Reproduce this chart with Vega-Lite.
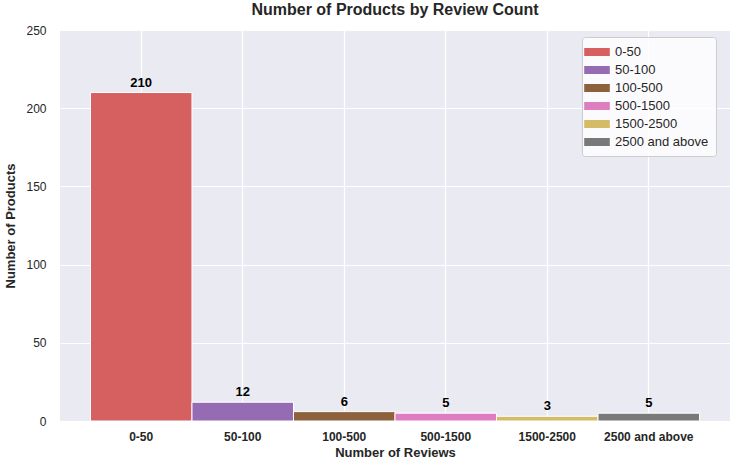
{
  "$schema": "https://vega.github.io/schema/vega-lite/v6.json",
  "autosize": "none",
  "width": 670,
  "height": 391,
  "padding": {"left": 60, "top": 30, "right": 7, "bottom": 48},
  "background": "white",
  "title": {
    "text": "Number of Products by Review Count",
    "font": "Liberation Sans",
    "fontSize": 16,
    "fontWeight": "bold",
    "color": "#262626",
    "offset": 6
  },
  "config": {
    "view": {"fill": "#eaeaf2", "stroke": null},
    "font": "Liberation Sans"
  },
  "data": {
    "values": [
      {"range": "0-50", "count": 210},
      {"range": "50-100", "count": 12},
      {"range": "100-500", "count": 6},
      {"range": "500-1500", "count": 5},
      {"range": "1500-2500", "count": 3},
      {"range": "2500 and above", "count": 5}
    ]
  },
  "encoding": {
    "x": {
      "field": "range",
      "type": "nominal",
      "sort": null,
      "title": "Number of Reviews",
      "scale": {"paddingInner": 0, "paddingOuter": 0.3},
      "axis": {
        "labelAngle": 0,
        "labelFontWeight": "bold",
        "labelFontSize": 12,
        "labelColor": "#262626",
        "labelPadding": 10,
        "titleFontSize": 13,
        "titleFontWeight": "bold",
        "titleColor": "#262626",
        "titlePadding": 4,
        "domain": false,
        "ticks": false,
        "grid": true,
        "gridColor": "white",
        "gridWidth": 1.2,
        "bandPosition": 0.5
      }
    },
    "y": {
      "field": "count",
      "type": "quantitative",
      "title": "Number of Products",
      "scale": {"domain": [0, 250]},
      "axis": {
        "values": [0, 50, 100, 150, 200, 250],
        "labelFontSize": 12,
        "labelColor": "#262626",
        "labelPadding": 14,
        "titleFontSize": 13,
        "titleFontWeight": "bold",
        "titleColor": "#262626",
        "titlePadding": 8,
        "domain": false,
        "ticks": false,
        "grid": true,
        "gridColor": "white",
        "gridWidth": 1.2
      }
    }
  },
  "layer": [
    {
      "mark": {"type": "bar", "stroke": "white", "strokeWidth": 1},
      "encoding": {
        "color": {
          "field": "range",
          "type": "nominal",
          "sort": null,
          "title": null,
          "scale": {
            "domain": ["0-50", "50-100", "100-500", "500-1500", "1500-2500", "2500 and above"],
            "range": ["#d65f5f", "#956cb4", "#8c613c", "#dc7ec0", "#d5bb67", "#797979"]
          },
          "legend": {
            "orient": "none",
            "legendX": 522,
            "legendY": 7,
            "symbolType": "M-1.6,-0.5H1.6V0.5H-1.6Z",
            "symbolSize": 256,
            "symbolStrokeWidth": 0,
            "symbolOpacity": 1,
            "labelFontSize": 13,
            "labelColor": "#262626",
            "labelOffset": 10,
            "rowPadding": 3,
            "fillColor": "rgba(255,255,255,0.8)",
            "strokeColor": "#cccccc",
            "cornerRadius": 3,
            "padding": 7
          }
        }
      }
    },
    {
      "mark": {
        "type": "text",
        "dy": -10,
        "fontWeight": "bold",
        "fontSize": 13,
        "color": "black"
      },
      "encoding": {
        "text": {"field": "count", "type": "quantitative"}
      }
    }
  ]
}
